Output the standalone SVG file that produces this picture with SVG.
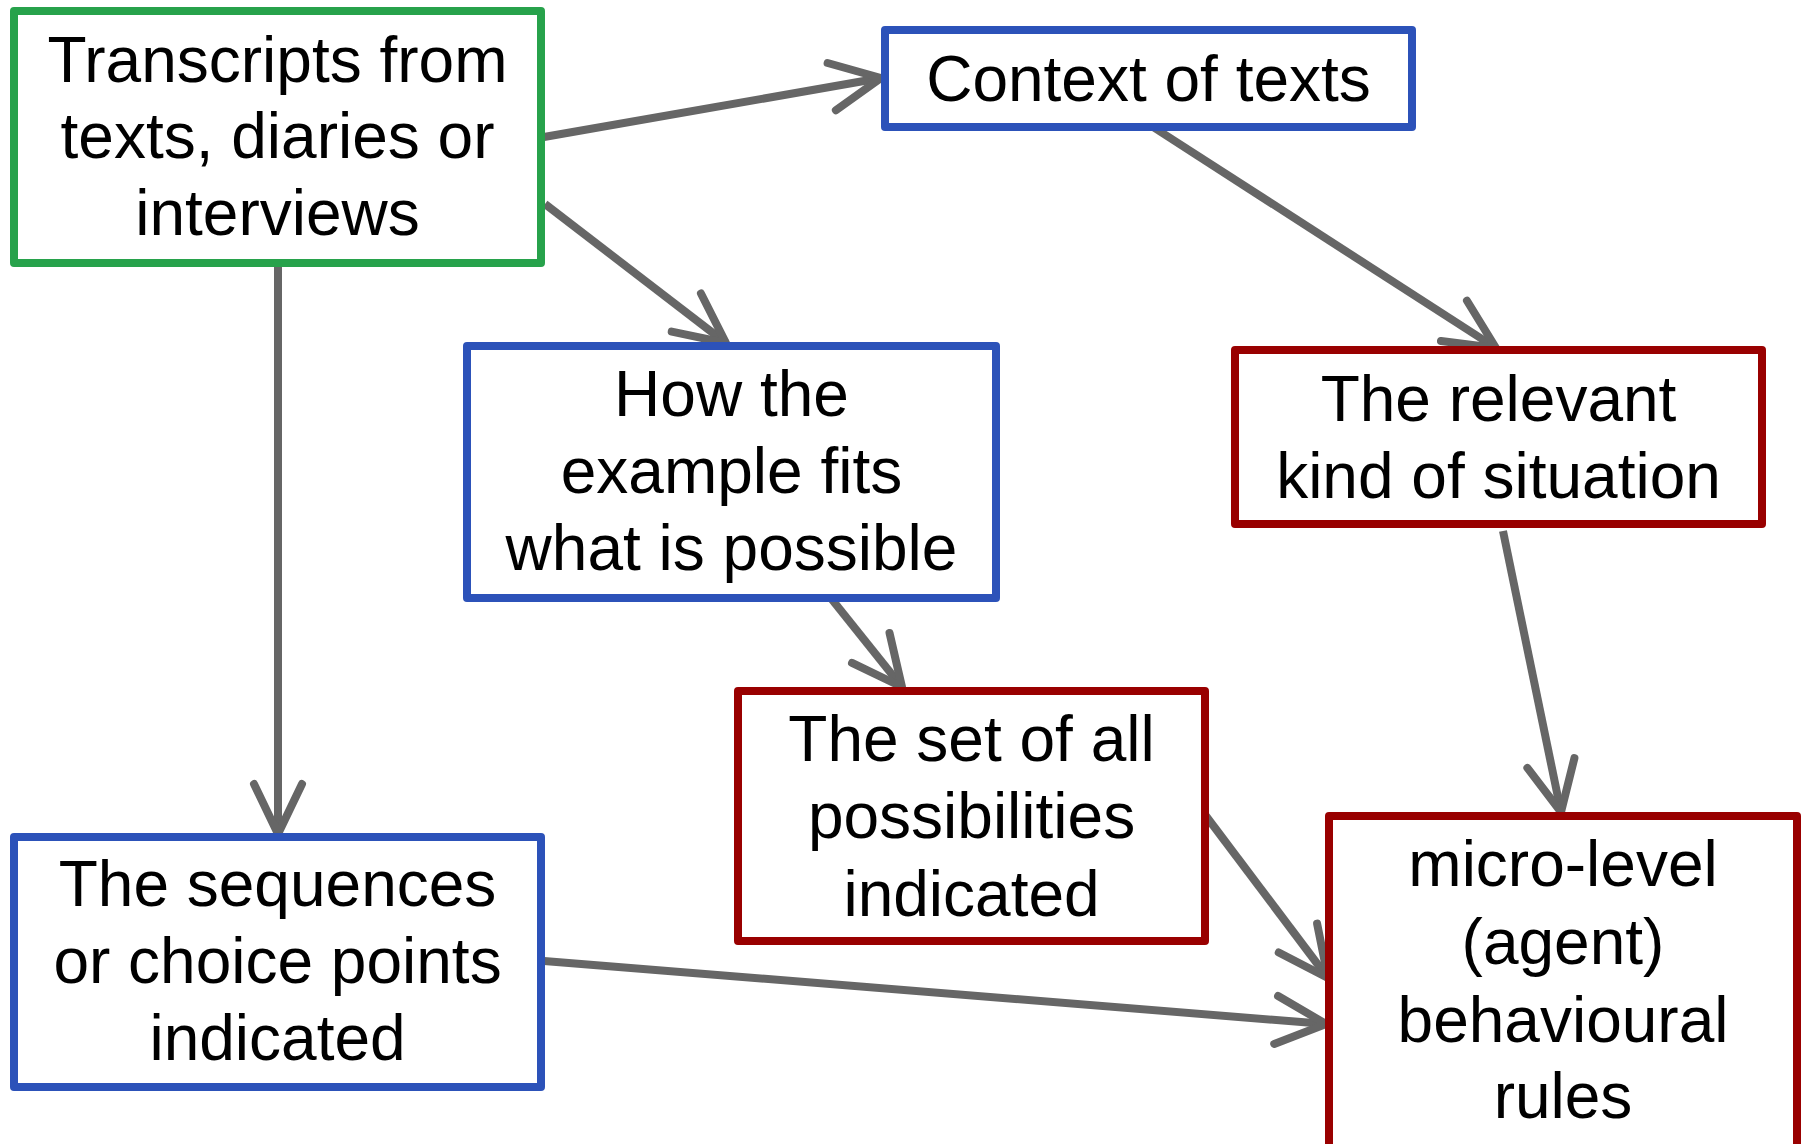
<svg xmlns="http://www.w3.org/2000/svg" width="1806" height="1144" viewBox="0 0 1806 1144">
<style>
.box{fill:#ffffff;stroke-width:8;stroke-linejoin:round}
.green{stroke:#27a24b}
.blue{stroke:#2c52b9}
.red{stroke:#990000}
.lbl{font-family:"Liberation Sans",Arial,sans-serif;font-size:64px;fill:#000000;text-anchor:middle}
.conn{fill:none;stroke:#666666;stroke-width:8;marker-end:url(#arr)}
</style>
<defs>
<marker id="arr" markerUnits="userSpaceOnUse" markerWidth="80" markerHeight="80" viewBox="-60 -40 80 80" refX="0" refY="0" orient="auto" overflow="visible">
<path d="M-50,-24 L0,0 L-50,24" fill="none" stroke="#666666" stroke-width="8" stroke-linecap="round" stroke-linejoin="round"/>
</marker>
</defs>
<rect width="1806" height="1144" fill="#ffffff"/>
<g id="connectors">
<path class="conn" d="M544,137 L881,78"/>
<path class="conn" d="M545,204 L726,343"/>
<path class="conn" d="M278,263 L278,834"/>
<path class="conn" d="M1150,125 L1496,348"/>
<path class="conn" d="M830,597 L902,687"/>
<path class="conn" d="M1503,531 L1561,812"/>
<path class="conn" d="M1206,816 L1328,978"/>
<path class="conn" d="M544,961 L1326,1024"/>
</g>
<g id="transcripts">
<rect class="box green" x="14" y="11" width="527" height="252"/>
<text class="lbl" x="277.5" y="82">Transcripts from</text>
<text class="lbl" x="277.5" y="158">texts, diaries or</text>
<text class="lbl" x="277.5" y="235">interviews</text>
</g>
<g id="context">
<rect class="box blue" x="885" y="30" width="527" height="97"/>
<text class="lbl" x="1148.5" y="101">Context of texts</text>
</g>
<g id="how">
<rect class="box blue" x="467" y="346" width="529" height="252"/>
<text class="lbl" x="731.5" y="416">How the</text>
<text class="lbl" x="731.5" y="493">example fits</text>
<text class="lbl" x="731.5" y="570">what is possible</text>
</g>
<g id="relevant">
<rect class="box red" x="1235" y="350" width="527" height="174"/>
<text class="lbl" x="1498.5" y="421">The relevant</text>
<text class="lbl" x="1498.5" y="498">kind of situation</text>
</g>
<g id="set">
<rect class="box red" x="738" y="691" width="467" height="250"/>
<text class="lbl" x="971.5" y="761">The set of all</text>
<text class="lbl" x="971.5" y="838">possibilities</text>
<text class="lbl" x="971.5" y="916">indicated</text>
</g>
<g id="sequences">
<rect class="box blue" x="14" y="837" width="527" height="250"/>
<text class="lbl" x="277.5" y="906">The sequences</text>
<text class="lbl" x="277.5" y="983">or choice points</text>
<text class="lbl" x="277.5" y="1060">indicated</text>
</g>
<g id="micro">
<rect class="box red" x="1329" y="816" width="468" height="345"/>
<text class="lbl" x="1563" y="886">micro-level</text>
<text class="lbl" x="1563" y="964">(agent)</text>
<text class="lbl" x="1563" y="1042">behavioural</text>
<text class="lbl" x="1563" y="1118">rules</text>
</g>
</svg>
